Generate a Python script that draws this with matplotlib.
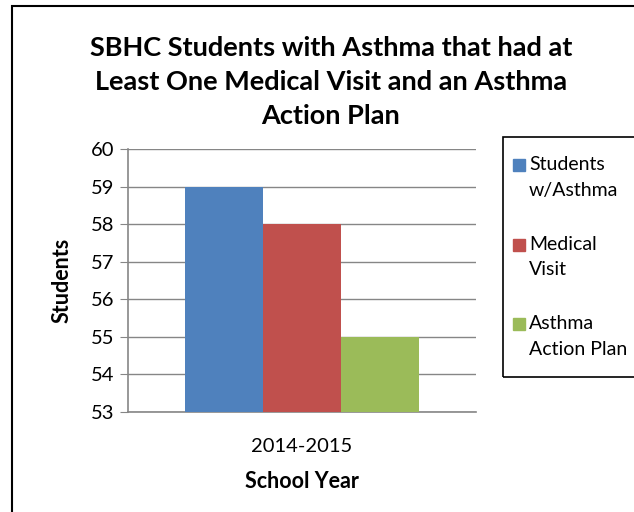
import matplotlib
matplotlib.use("Agg")
import matplotlib.pyplot as plt
from matplotlib.patches import Rectangle

plt.rcParams['font.family'] = ['Lato', 'DejaVu Sans']

# data
categories = ["2014-2015"]
series_names = ["Students\nw/Asthma", "Medical\nVisit", "Asthma\nAction Plan"]
series_values = [[59], [58], [55]]
colors = ["#4F81BD", "#C0504D", "#9BBB59"]
y_ticks = [53, 54, 55, 56, 57, 58, 59, 60]

W, H = 634, 512
fig = plt.figure(figsize=(W / 100, H / 100), dpi=100)

# outer chart border (runs off the right and bottom edge)
top = 1 - 6 / H
fig.patches.append(Rectangle((12 / W, -0.2), 1.2, top + 0.2,
                             transform=fig.transFigure, fill=False,
                             edgecolor="black", linewidth=1.5))

# plot area
ax = fig.add_axes([128 / W, 1 - 412 / H, 348 / W, 263 / H])
bw = 0.224
for i, (vals, c) in enumerate(zip(series_values, colors)):
  xs = [k + (i - 1) * bw for k in range(len(categories))]
  ax.bar(xs, [v - y_ticks[0] for v in vals], bottom=y_ticks[0], width=bw,
         color=c, zorder=3)

ax.set_xlim(-0.5, len(categories) - 0.5)
ax.set_ylim(y_ticks[0], y_ticks[-1])
ax.set_yticks(y_ticks)
ax.set_xticks(range(len(categories)))
ax.set_xticklabels(categories)
ax.yaxis.grid(True, color="#868686", linewidth=1, zorder=0)
for s in ["top", "right"]:
  ax.spines[s].set_visible(False)
for s in ["left", "bottom"]:
  ax.spines[s].set_color("#868686")
  ax.spines[s].set_linewidth(1.2)
ax.tick_params(axis="y", length=6, color="#868686", labelsize=14.5, pad=4)
ax.tick_params(axis="x", length=0, labelsize=14.5, pad=19)
ax.set_ylabel("Students", fontsize=15.5, fontweight="bold", labelpad=13)
ax.set_xlabel("School Year", fontsize=15.5, fontweight="bold", labelpad=11)

# title
fig.text(331 / W, 1 - 82 / H,
         "SBHC Students with Asthma that had at\nLeast One Medical Visit and an Asthma\nAction Plan",
         ha="center", va="center", fontsize=19.5, fontweight="bold",
         linespacing=1.48)

# legend box (runs off the right edge)
fig.patches.append(Rectangle((503 / W, 1 - 377 / H), 0.5, 240 / H,
                             transform=fig.transFigure, fill=False,
                             edgecolor="black", linewidth=1.2))
for i, (name, c) in enumerate(zip(series_names, colors)):
  ytop = 164 + i * 79.5
  fig.patches.append(Rectangle((513 / W, 1 - (ytop + 7) / H), 12 / W, 12 / H,
                               transform=fig.transFigure, color=c))
  fig.text(529 / W, 1 - (ytop - 8) / H, name, ha="left", va="top",
           fontsize=14, linespacing=1.63)

fig.savefig("out.png", dpi=100)
